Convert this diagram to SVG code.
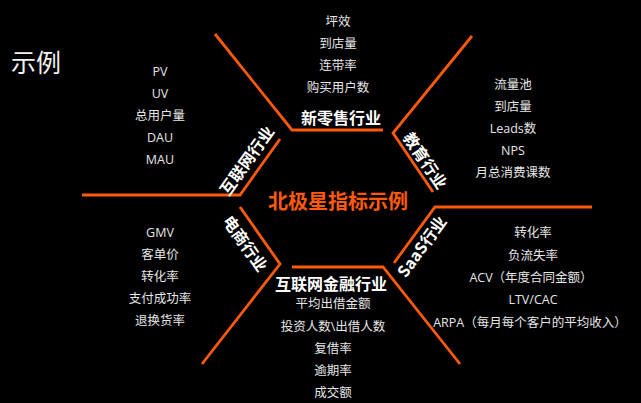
<svg xmlns="http://www.w3.org/2000/svg" width="641" height="403" viewBox="0 0 641 403">
<style>
.bg{fill:#000}
.ln{fill:none;stroke:#FF5A0A;stroke-width:2.8;stroke-linejoin:miter}
.it{font-family:"Open Sans","Noto Sans CJK SC",sans-serif;font-size:12.5px;fill:#E6E6E6;text-anchor:middle}
.hd{font-family:"Noto Sans CJK SC",sans-serif;font-size:16px;font-weight:bold;fill:#FFFFFF;text-anchor:middle;dominant-baseline:central}
.ct{font-family:"Noto Sans CJK SC",sans-serif;font-size:20px;font-weight:bold;fill:#FF5A0A;text-anchor:middle}
.ti{font-family:"Noto Sans CJK SC",sans-serif;font-size:25px;fill:#F2F2F2}
</style>
<rect class="bg" x="0" y="0" width="641" height="403"/>
<text class="ti" x="11" y="72">示例</text>
<g id="connectors">
<polyline class="ln" points="215,34 292,130 383,130"/>
<polyline class="ln" points="472,36 393,133 433,192"/>
<polyline class="ln" points="280,139 240,195 82,195"/>
<polyline class="ln" points="592,207 435,207 394,263"/>
<polyline class="ln" points="240,207 280,264 202,364"/>
<polyline class="ln" points="292,267 383,267 460,364"/>
</g>
<g id="center"><text class="ct" x="338" y="209">北极星指标示例</text></g>
<g id="retail">
<text class="hd" x="341" y="117">新零售行业</text>
<text class="it" x="338" y="26">坪效</text>
<text class="it" x="338" y="48">到店量</text>
<text class="it" x="338" y="70">连带率</text>
<text class="it" x="338" y="92">购买用户数</text>
</g>
<g id="internet">
<text class="hd" transform="translate(246,160) rotate(-54.5)">互联网行业</text>
<text class="it" x="160" y="76">PV</text>
<text class="it" x="160" y="98">UV</text>
<text class="it" x="160" y="120">总用户量</text>
<text class="it" x="160" y="142">DAU</text>
<text class="it" x="160" y="164">MAU</text>
</g>
<g id="education">
<text class="hd" transform="translate(426,160) rotate(56)">教育行业</text>
<text class="it" x="513" y="89">流量池</text>
<text class="it" x="513" y="111">到店量</text>
<text class="it" x="513" y="133">Leads数</text>
<text class="it" x="513" y="155">NPS</text>
<text class="it" x="513" y="177">月总消费课数</text>
</g>
<g id="ecommerce">
<text class="hd" transform="translate(246,243) rotate(55)">电商行业</text>
<text class="it" x="160" y="237">GMV</text>
<text class="it" x="160" y="259">客单价</text>
<text class="it" x="160" y="281">转化率</text>
<text class="it" x="160" y="303">支付成功率</text>
<text class="it" x="160" y="325">退换货率</text>
</g>
<g id="saas">
<text class="hd" transform="translate(421,246) rotate(-54)">SaaS行业</text>
<text class="it" x="533" y="237">转化率</text>
<text class="it" x="533" y="260">负流失率</text>
<text class="it" x="531" y="282">ACV（年度合同金额）</text>
<text class="it" x="533" y="304">LTV/CAC</text>
<text class="it" x="530" y="327">ARPA（每月每个客户的平均收入）</text>
</g>
<g id="finance">
<text class="hd" x="331" y="283">互联网金融行业</text>
<text class="it" x="333" y="308">平均出借金额</text>
<text class="it" x="333" y="331">投资人数\出借人数</text>
<text class="it" x="333" y="353">复借率</text>
<text class="it" x="333" y="375">逾期率</text>
<text class="it" x="333" y="397">成交额</text>
</g>
</svg>
